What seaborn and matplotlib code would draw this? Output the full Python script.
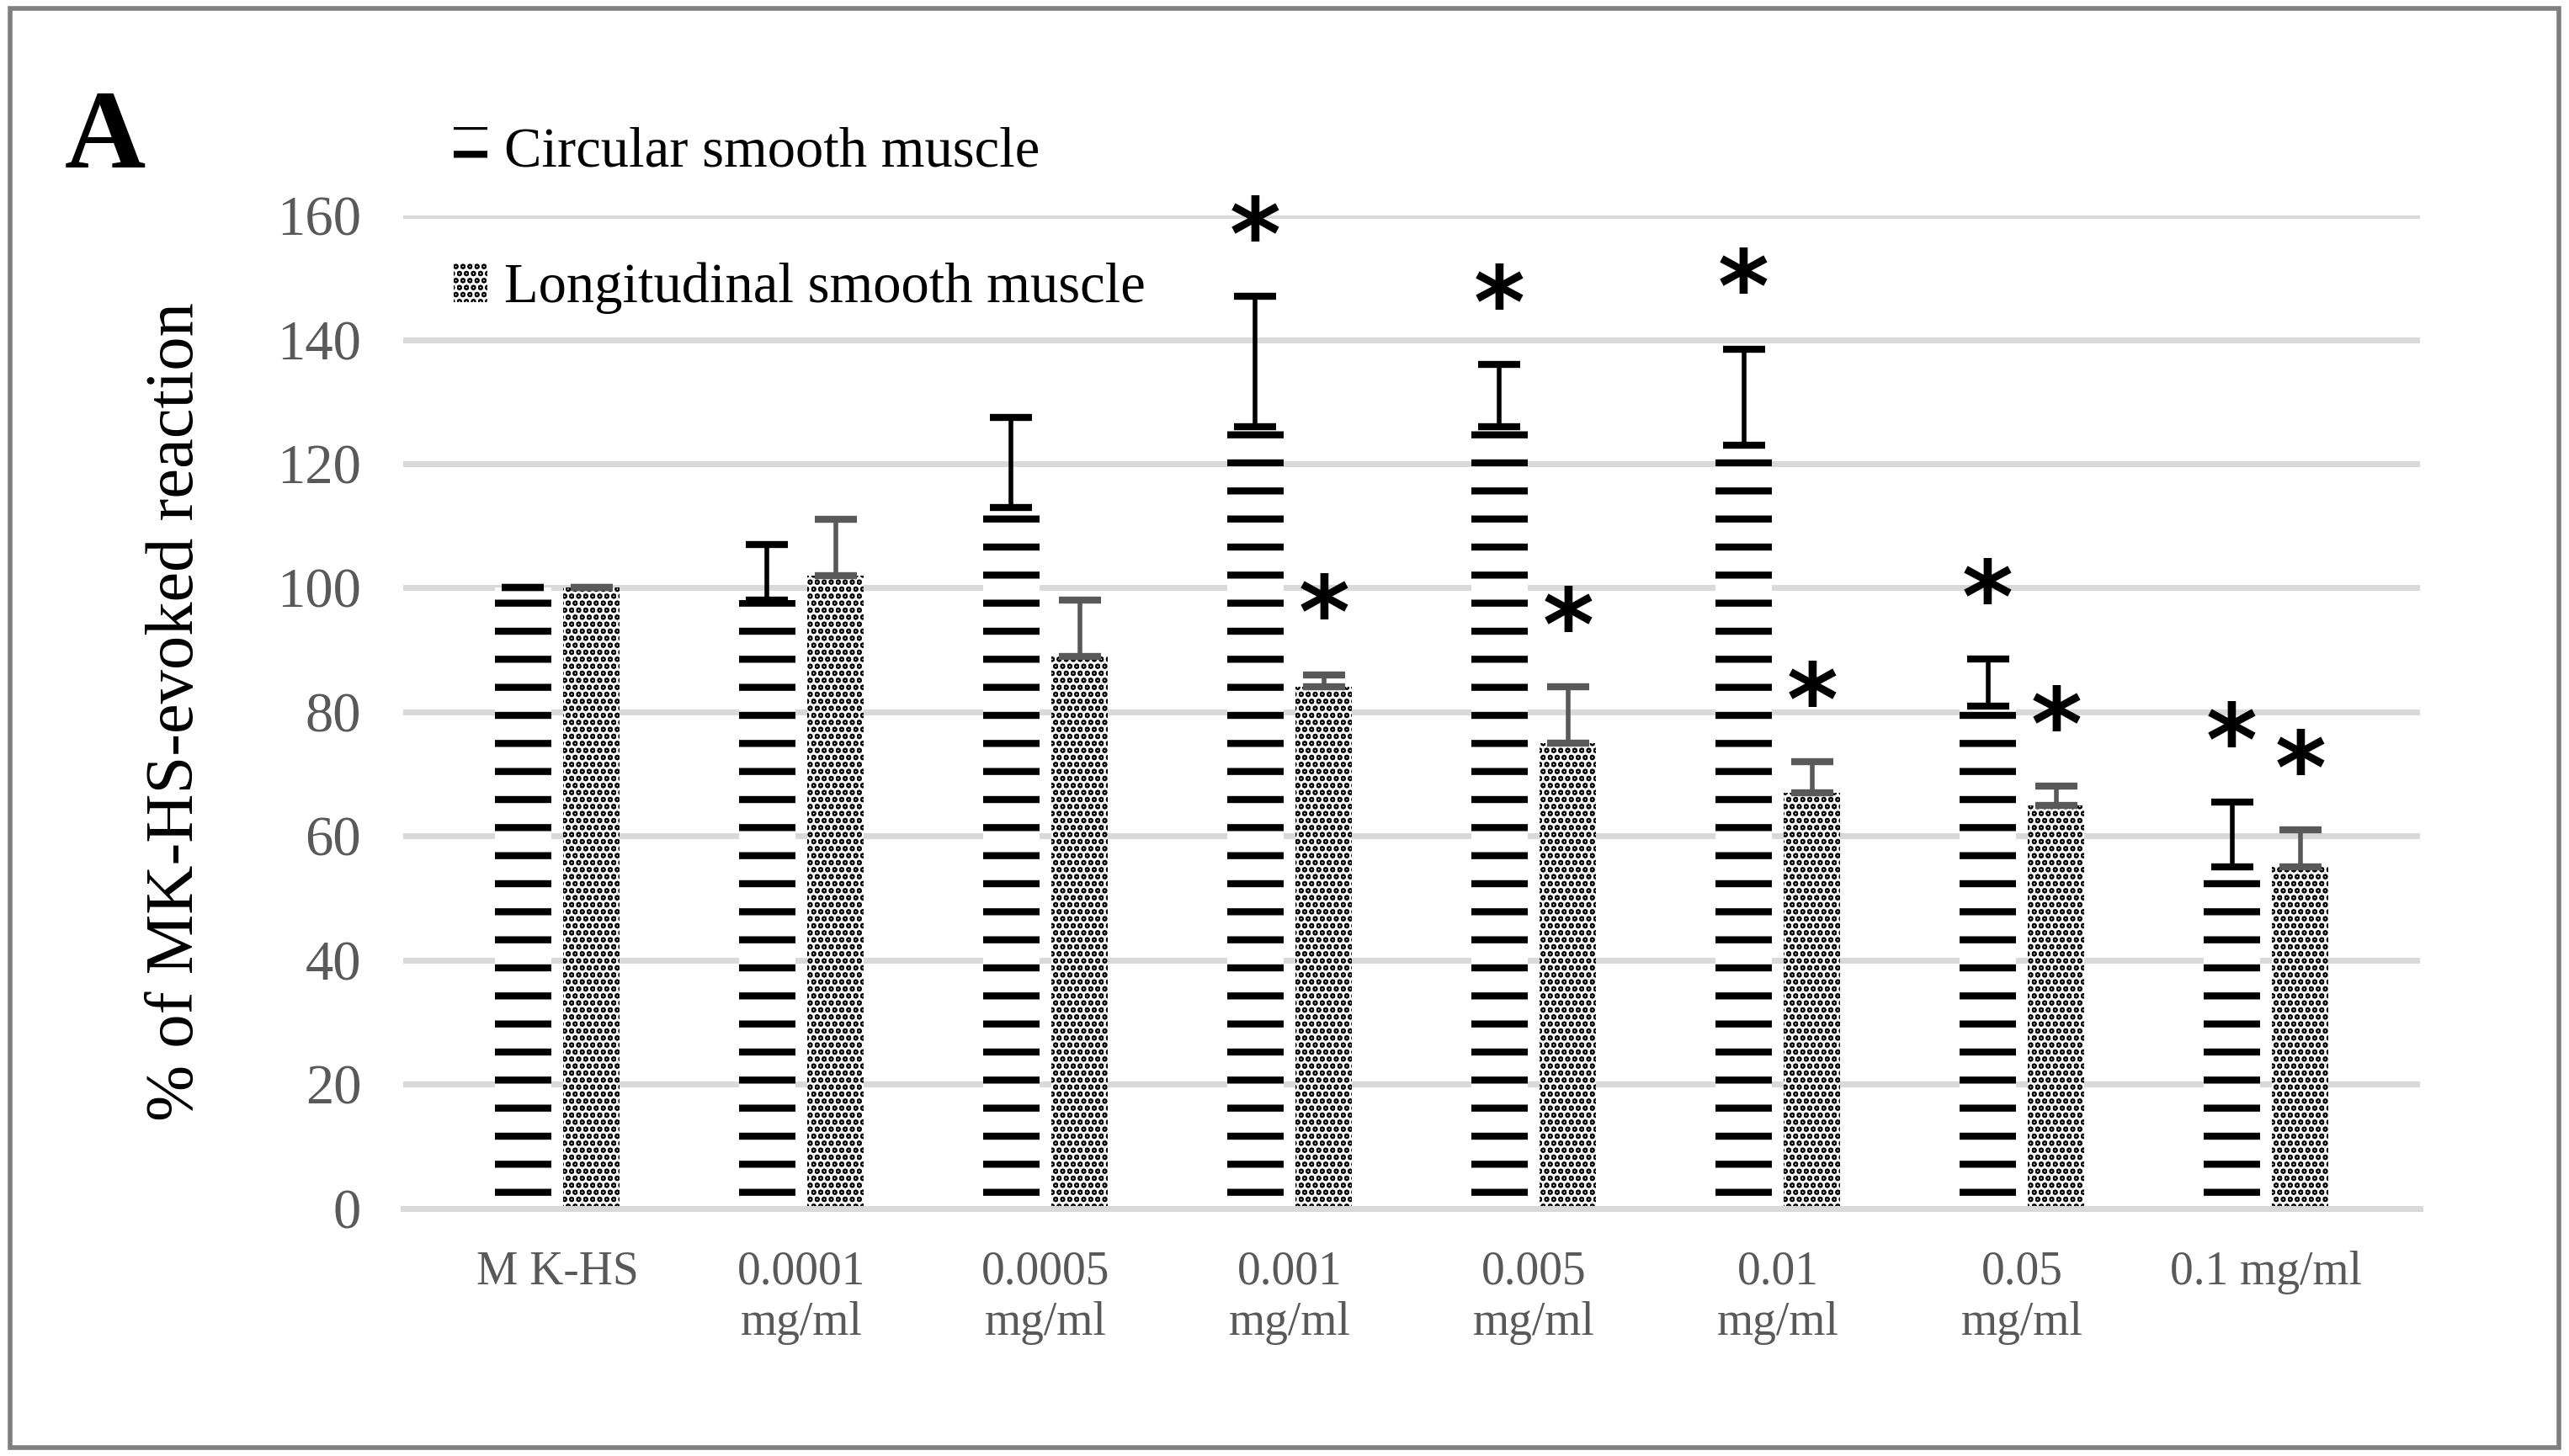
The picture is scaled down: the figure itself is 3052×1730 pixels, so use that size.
import matplotlib
matplotlib.use("Agg")
import matplotlib.pyplot as plt
import seaborn as sns
import pandas as pd
import numpy as np
from matplotlib.patches import Rectangle

categories = ["M K-HS", "0.0001\nmg/ml", "0.0005\nmg/ml", "0.001\nmg/ml", "0.005\nmg/ml", "0.01\nmg/ml", "0.05\nmg/ml", "0.1 mg/ml"]
circular = [100, 98, 113, 126, 126, 123, 81, 55]
circular_top = [100, 107, 127.5, 147, 136, 138.5, 88.5, 65.5]
longitudinal = [100, 102, 89, 84, 75, 67, 65, 55]
longitudinal_top = [100, 111, 98, 86, 84, 72, 68, 61]
circ_sig = [False, False, False, True, True, True, True, True]
long_sig = [False, False, False, True, True, True, True, True]
series = ["Circular smooth muscle", "Longitudinal smooth muscle"]

plt.rcParams["font.family"] = "Liberation Serif"
plt.rcParams["hatch.linewidth"] = 3.0

df = pd.DataFrame({"cat": categories * 2, "val": circular + longitudinal,
                   "series": [series[0]] * 8 + [series[1]] * 8})

fig = plt.figure(figsize=(15.26, 8.65), dpi=200)
ax = fig.add_axes([0.157, 0.17, 0.785, 0.682])
sns.barplot(data=df, x="cat", y="val", hue="series", ax=ax, width=0.56, gap=0.18,
            palette=["white", "black"], edgecolor="none", legend=False)
containers = ax.containers
for p in containers[0]:
    p.set_hatch("-")
    p.set_edgecolor("black")
    p.set_linewidth(0)
for p in containers[1]:
    p.set_hatch("....")
    p.set_edgecolor("white")
    p.set_linewidth(0)

for cont, vals, tops, sig, col in [(containers[0], circular, circular_top, circ_sig, "black"),
                                    (containers[1], longitudinal, longitudinal_top, long_sig, "#595959")]:
    for p, v, t, s in zip(cont, vals, tops, sig):
        xc = p.get_x() + p.get_width() / 2
        ax.errorbar([xc], [v], yerr=[[0], [t - v]], fmt="none", ecolor=col, elinewidth=2, capsize=9, capthick=3)
        if s:
            ax.text(xc, t + 1.0, "*", ha="center", va="bottom", fontsize=42,
                    fontweight="bold", fontfamily="DejaVu Sans")

ax.set_ylim(0, 160)
ax.set_yticks(range(0, 161, 20))
ax.grid(axis="y", color="#d9d9d9", linewidth=2.5)
ax.set_axisbelow(True)
for s in ["top", "right", "left"]:
    ax.spines[s].set_visible(False)
ax.spines["bottom"].set_color("#d9d9d9")
ax.spines["bottom"].set_linewidth(2.5)
ax.tick_params(axis="both", length=0)
ax.tick_params(axis="y", labelsize=24, colors="#595959", pad=18)
ax.tick_params(axis="x", labelsize=20, colors="#595959", pad=18)
ax.set_xlabel("")
ax.set_ylabel("% of MK-HS-evoked reaction", fontsize=29, labelpad=30)

h1 = Rectangle((0, 0), 1, 1, facecolor="white", hatch="-", edgecolor="black", linewidth=0)
h2 = Rectangle((0, 0), 1, 1, facecolor="black", hatch="....", edgecolor="white", linewidth=0)
ax.legend([h1, h2], series, loc="upper left", bbox_to_anchor=(0.0, 1.14), frameon=False,
          fontsize=24, handlelength=0.6, handleheight=0.7, handletextpad=0.3, labelspacing=1.5)

fig.text(0.025, 0.885, "A", fontsize=48, fontweight="bold")
fig.patches.append(Rectangle((0.004, 0.006), 0.992, 0.988, transform=fig.transFigure,
                             fill=False, edgecolor="#7f7f7f", linewidth=2))
fig.savefig("out.png", dpi=200)
